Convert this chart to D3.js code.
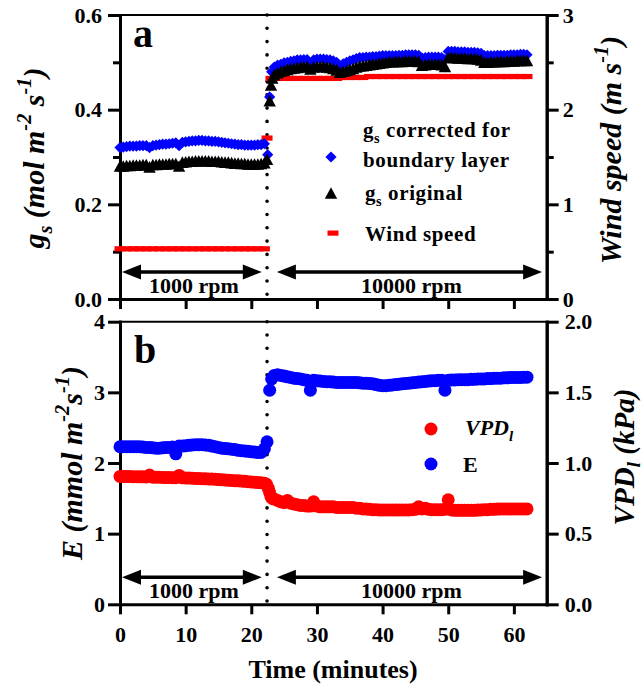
<!DOCTYPE html>
<html>
<head>
<meta charset="utf-8">
<script src="https://cdn.jsdelivr.net/npm/d3@7"></script>
<style>
body{margin:0;background:#fff}
svg text{font-family:"Liberation Serif","Times New Roman",serif;font-weight:bold}
</style>
</head>
<body>
<div id="chart"></div>
<script>
// time grid: 0.5 min steps before the switch (from 0) and after it (from 23.5)
var stepMin = 0.5,
	postStart = 23.5,
	switchTime = 22.4;

// panel a: gs corrected for boundary layer (mol m-2 s-1)
var gsCorrPre = [0.320,0.321,0.322,0.323,0.323,0.323,0.324,0.324,0.324,0.320,
	0.324,0.325,0.326,0.327,0.327,0.328,0.329,0.330,0.324,0.331,
	0.332,0.333,0.334,0.334,0.335,0.335,0.334,0.334,0.333,0.333,
	0.332,0.331,0.330,0.329,0.328,0.327,0.326,0.326,0.325,0.325,
	0.325,0.325,0.326,0.326,0.328];
var gsCorrMid = [[22.5,0.305],[22.8,0.427],[23.1,0.480]];
var gsCorrPost = [0.490,0.494,0.496,0.499,0.500,0.502,0.503,0.505,0.505,0.506,
	0.506,0.495,0.505,0.507,0.507,0.507,0.506,0.505,0.503,0.500,
	0.492,0.497,0.500,0.503,0.505,0.508,0.510,0.510,0.511,0.511,
	0.512,0.512,0.513,0.514,0.514,0.514,0.514,0.514,0.515,0.515,
	0.516,0.516,0.516,0.516,0.515,0.509,0.510,0.511,0.511,0.511,
	0.511,0.510,0.506,0.523,0.523,0.523,0.522,0.522,0.522,0.521,
	0.521,0.521,0.520,0.519,0.514,0.514,0.514,0.514,0.515,0.515,
	0.515,0.515,0.516,0.516,0.516,0.517,0.517,0.516];

// panel a: gs original
var gsOrigPre = [0.279,0.279,0.280,0.280,0.281,0.281,0.281,0.282,0.282,0.277,
	0.282,0.282,0.283,0.283,0.283,0.284,0.284,0.284,0.279,0.287,
	0.288,0.289,0.289,0.290,0.290,0.290,0.290,0.290,0.289,0.289,
	0.289,0.288,0.287,0.287,0.286,0.285,0.285,0.284,0.284,0.283,
	0.283,0.283,0.283,0.284,0.286];
var gsOrigMid = [[22.4,0.293],[22.8,0.417],[23.0,0.450],[23.2,0.465]];
var gsOrigPost = [0.472,0.476,0.479,0.481,0.483,0.485,0.486,0.487,0.488,0.489,
	0.489,0.484,0.488,0.489,0.489,0.489,0.488,0.487,0.485,0.482,
	0.477,0.479,0.481,0.483,0.485,0.488,0.490,0.491,0.492,0.493,
	0.494,0.495,0.496,0.497,0.498,0.499,0.499,0.500,0.500,0.500,
	0.501,0.501,0.501,0.501,0.500,0.492,0.493,0.494,0.494,0.494,
	0.494,0.493,0.489,0.508,0.508,0.508,0.507,0.507,0.507,0.506,
	0.506,0.506,0.505,0.503,0.498,0.498,0.499,0.499,0.500,0.500,
	0.500,0.501,0.501,0.501,0.502,0.502,0.502,0.502];

// panel a: wind speed (m s-1), 1 min steps
var windStep = 1;
var windPre = [0.53,0.53,0.53,0.53,0.53,0.53,0.53,0.53,0.53,0.53,0.53,0.53,
	0.53,0.53,0.53,0.53,0.53,0.53,0.53,0.53,0.53,0.53,0.53];
var windMid = [[22.4,1.70]];
var windPost = [2.33,2.33,2.33,2.33,2.33,2.33,2.33,2.33,2.33,2.33,2.33,
	2.34,2.34,2.34,2.34,
	2.35,2.35,2.35,2.35,2.35,2.35,2.35,2.35,2.35,2.35,2.35,2.35,2.35,
	2.35,2.35,2.35,2.35,2.35,2.35,2.35,2.35,2.35,2.35,2.35,2.35];

// panel b: E (mmol m-2 s-1)
var ePre = [2.23,2.23,2.23,2.23,2.23,2.23,2.23,2.225,2.22,2.22,
	2.215,2.21,2.21,2.215,2.22,2.22,2.225,2.13,2.24,2.24,
	2.245,2.25,2.255,2.26,2.26,2.26,2.255,2.25,2.24,2.23,
	2.22,2.21,2.205,2.2,2.195,2.19,2.18,2.175,2.17,2.165,
	2.16,2.155,2.15,2.15,2.2];
var eMid = [[22.4,2.30],[22.8,3.03],[23.1,3.19]];
var ePost = [3.24,3.25,3.24,3.23,3.22,3.21,3.20,3.195,3.19,3.18,
	3.17,3.03,3.17,3.165,3.16,3.155,3.15,3.15,3.145,3.14,
	3.14,3.14,3.14,3.14,3.14,3.14,3.135,3.13,3.13,3.125,
	3.12,3.11,3.10,3.095,3.095,3.10,3.105,3.11,3.115,3.12,
	3.125,3.13,3.135,3.14,3.145,3.15,3.155,3.16,3.165,3.165,
	3.17,3.17,3.03,3.17,3.175,3.175,3.18,3.18,3.18,3.18,
	3.185,3.185,3.19,3.19,3.19,3.195,3.195,3.2,3.2,3.2,
	3.205,3.205,3.21,3.21,3.21,3.21,3.215,3.215];

// panel b: leaf VPD (kPa)
var vpdPre = [0.905,0.905,0.904,0.904,0.903,0.903,0.902,0.902,0.901,0.915,
	0.900,0.899,0.899,0.898,0.897,0.897,0.896,0.896,0.912,0.895,
	0.894,0.893,0.892,0.891,0.890,0.889,0.888,0.887,0.886,0.885,
	0.883,0.882,0.880,0.878,0.877,0.875,0.874,0.872,0.870,0.868,
	0.866,0.864,0.862,0.860,0.857];
var vpdMid = [[22.3,0.85],[22.6,0.82],[22.8,0.79],[23.0,0.76],[23.2,0.75]];
var vpdPost = [0.745,0.735,0.725,0.72,0.735,0.715,0.71,0.705,0.70,0.70,
	0.695,0.695,0.725,0.695,0.69,0.69,0.69,0.69,0.69,0.685,
	0.685,0.685,0.685,0.685,0.685,0.68,0.68,0.675,0.675,0.672,
	0.67,0.67,0.668,0.668,0.668,0.668,0.668,0.668,0.668,0.668,
	0.668,0.668,0.67,0.672,0.69,0.675,0.68,0.672,0.67,0.67,
	0.67,0.67,0.672,0.74,0.668,0.665,0.665,0.665,0.665,0.665,
	0.665,0.665,0.667,0.668,0.67,0.67,0.672,0.672,0.674,0.675,
	0.675,0.675,0.675,0.675,0.675,0.675,0.675,0.675];

// rpm periods (arrow ends in minutes)
var rpmPeriods = [
	{label:"1000 rpm", from:0.3, to:21.6},
	{label:"10000 rpm", from:23.9, to:64.3}
];

var xTicks = [0,10,20,30,40,50,60];

var width = 644,
	height = 685;

var x = d3.scaleLinear().domain([0,65]).range([120,546.7]);
var ya = d3.scaleLinear().domain([0,0.6]).range([299,15]);
var yaR = d3.scaleLinear().domain([0,3]).range([299,15]);
var yb = d3.scaleLinear().domain([0,4]).range([604.3,321.7]);
var ybR = d3.scaleLinear().domain([0,2]).range([604.3,321.7]);

var svg = d3.select("#chart").append("svg")
	.attr("width",width)
	.attr("height",height);

function build(pre, mid, post, step, t0){
	var out = pre.map(function(v,i){ return {t:i*step, v:v}; });
	mid.forEach(function(d){ out.push({t:d[0], v:d[1]}); });
	post.forEach(function(v,i){ out.push({t:t0+i*step, v:v}); });
	return out;
}

var gsCorr = build(gsCorrPre, gsCorrMid, gsCorrPost, stepMin, postStart),
	gsOrig = build(gsOrigPre, gsOrigMid, gsOrigPost, stepMin, postStart),
	wind = build(windPre, windMid, windPost, windStep, 23),
	eSer = build(ePre, eMid, ePost, stepMin, postStart),
	vpd = build(vpdPre, vpdMid, vpdPost, stepMin, postStart);

// rich text with sub/superscripts
function rich(el, parts, size, subK){
	var shift = 0;
	subK = subK || 0.28;
	parts.forEach(function(p){
		var target = p.sub ? subK*size : p.sup ? -0.42*size : 0;
		var ts = el.append("tspan").text(p.t).attr("dy", target-shift);
		if (p.sub || p.sup) ts.attr("font-size", (0.68*size)+"px");
		if (p.it) ts.attr("font-style","italic");
		shift = target;
	});
	return el;
}

function styleAxis(g, fs){
	g.selectAll("path.domain").attr("stroke","#000").attr("stroke-width",3).attr("stroke-linecap","square");
	g.selectAll(".tick line").attr("stroke","#000").attr("stroke-width",3);
	g.selectAll(".tick text").attr("fill","#000")
		.style("font-family","'Liberation Serif','Times New Roman',serif")
		.style("font-weight","bold").style("font-size",fs+"px");
	g.attr("font-family",null).attr("font-size",null);
}

function panelFrame(yL, yR, leftTicks, leftMinor, leftFmt, leftPad, rightTicks, rightMinor, rightFmt, rightPad, showX){
	var f = svg.append("g");
	f.append("line")
		.attr("x1",x(0)).attr("x2",x(65))
		.attr("y1",yL.range()[1]).attr("y2",yL.range()[1])
		.attr("stroke","#000").attr("stroke-width",2);

	var bx = f.append("g").attr("transform","translate(0,"+yL.range()[0]+")")
		.call(d3.axisBottom(x).tickValues(xTicks).tickSize(10).tickSizeOuter(0).tickPadding(12)
			.tickFormat(showX ? d3.format("d") : ""));
	styleAxis(bx,22);

	var lm = f.append("g").attr("transform","translate("+x(0)+",0)")
		.call(d3.axisLeft(yL).tickValues(leftMinor).tickSize(7).tickSizeOuter(0).tickFormat(""));
	styleAxis(lm,22);
	var la = f.append("g").attr("transform","translate("+x(0)+",0)")
		.call(d3.axisLeft(yL).tickValues(leftTicks).tickSize(12).tickSizeOuter(0).tickPadding(leftPad).tickFormat(leftFmt));
	styleAxis(la,22);

	var rm = f.append("g").attr("transform","translate("+x(65)+",0)")
		.call(d3.axisRight(yR).tickValues(rightMinor).tickSize(7).tickSizeOuter(0).tickFormat(""));
	styleAxis(rm,22);
	var ra = f.append("g").attr("transform","translate("+x(65)+",0)")
		.call(d3.axisRight(yR).tickValues(rightTicks).tickSize(12).tickSizeOuter(0).tickPadding(rightPad).tickFormat(rightFmt));
	styleAxis(ra,22);

	// switch time marker
	f.append("line")
		.attr("x1",x(switchTime)).attr("x2",x(switchTime))
		.attr("y1",yL.range()[1]).attr("y2",yL.range()[0])
		.attr("stroke","#000").attr("stroke-width",3.6)
		.attr("stroke-linecap","round").attr("stroke-dasharray","0,13.3");

	// rpm arrows
	var arrowY = yL.range()[0]-27;
	rpmPeriods.forEach(function(p){
		var x1 = x(p.from), x2 = x(p.to);
		f.append("line").attr("x1",x1+14).attr("x2",x2-14)
			.attr("y1",arrowY).attr("y2",arrowY)
			.attr("stroke","#000").attr("stroke-width",3.5);
		f.append("path")
			.attr("d","M"+x1+","+arrowY+"l19,-7.5v15z").attr("fill","#000");
		f.append("path")
			.attr("d","M"+x2+","+arrowY+"l-19,-7.5v15z").attr("fill","#000");
		f.append("text").attr("x",(x1+x2)/2+2).attr("y",arrowY+21)
			.attr("text-anchor","middle").style("font-size","22px").text(p.label);
	});
	return f;
}

panelFrame(ya, yaR, [0,0.2,0.4,0.6], [0.1,0.3,0.5], d3.format(".1f"), 6,
	[0,1,2,3], [0.5,1.5,2.5], d3.format("d"), 4, false);
panelFrame(yb, ybR, [0,1,2,3,4], [], d3.format("d"), 3,
	[0,0.5,1,1.5,2], [], d3.format(".1f"), 6, true);

// symbols
var diamond = "M0,-5.6L5.6,0L0,5.6L-5.6,0Z",
	triangle = "M0,-6.8L6.2,4.8L-6.2,4.8Z";

// panel a data
svg.append("g").selectAll("rect").data(wind).enter().append("rect")
	.attr("x",function(d){ return x(d.t)-5.5; })
	.attr("y",function(d){ return yaR(d.v)-2.6; })
	.attr("width",11).attr("height",5.2)
	.attr("fill","#ff0000");

svg.append("g").selectAll("path").data(gsCorr).enter().append("path")
	.attr("d",diamond)
	.attr("transform",function(d){ return "translate("+x(d.t)+","+ya(d.v)+")"; })
	.attr("fill","#0000ff");

svg.append("g").selectAll("path").data(gsOrig).enter().append("path")
	.attr("d",triangle)
	.attr("transform",function(d){ return "translate("+x(d.t)+","+ya(d.v)+")"; })
	.attr("fill","#000");

// panel b data
svg.append("g").selectAll("circle").data(vpd).enter().append("circle")
	.attr("cx",function(d){ return x(d.t); })
	.attr("cy",function(d){ return ybR(d.v); })
	.attr("r",6.5).attr("fill","#ff0000");

svg.append("g").selectAll("circle").data(eSer).enter().append("circle")
	.attr("cx",function(d){ return x(d.t); })
	.attr("cy",function(d){ return yb(d.v); })
	.attr("r",6.5).attr("fill","#0000ff");

// panel letters
svg.append("text").attr("x",133).attr("y",47).style("font-size","40px").text("a");
svg.append("text").attr("x",134).attr("y",363).style("font-size","40px").text("b");

// legend a
var lg = svg.append("g").style("font-size","21px");
lg.append("path").attr("d",diamond).attr("transform","translate(331,157)").attr("fill","#0000ff");
lg.append("path").attr("d",triangle).attr("transform","translate(331,194)").attr("fill","#000");
lg.append("rect").attr("x",327.5).attr("y",230.5).attr("width",11).attr("height",5.2).attr("fill","#ff0000");
rich(lg.append("text").attr("x",363).attr("y",137).style("letter-spacing","0.6px"),
	[{t:"g"},{t:"s",sub:true},{t:" corrected for"}],21);
lg.append("text").attr("x",363).attr("y",167).style("letter-spacing","0.6px").text("boundary layer");
rich(lg.append("text").attr("x",365).attr("y",200).style("letter-spacing","0.6px"),
	[{t:"g"},{t:"s",sub:true},{t:" original"}],21);
lg.append("text").attr("x",365).attr("y",241).style("letter-spacing","0.6px").text("Wind speed");

// legend b
var lgb = svg.append("g").style("font-size","22px");
lgb.append("circle").attr("cx",431).attr("cy",429).attr("r",6.5).attr("fill","#ff0000");
lgb.append("circle").attr("cx",431).attr("cy",464).attr("r",6.5).attr("fill","#0000ff");
rich(lgb.append("text").attr("x",465).attr("y",435),
	[{t:"VPD",it:true},{t:"l",sub:true,it:true}],22);
lgb.append("text").attr("x",463).attr("y",472).text("E");

// vertical axis titles, centred by measured length
function vtitle(cx, cy, parts, size, subK){
	var t = svg.append("text")
		.attr("text-anchor","start")
		.style("font-size",size+"px").style("font-style","italic");
	rich(t, parts, size, subK);
	var len = t.node().getComputedTextLength();
	t.attr("transform","translate("+cx+","+(cy+len/2)+") rotate(-90)");
}
vtitle(44,158,[{t:"g"},{t:"s",sub:true},{t:" (mol m"},{t:"-2",sup:true},{t:" s"},{t:"-1",sup:true},{t:")"}],30);
vtitle(621,150,[{t:"Wind speed (m s"},{t:"-1",sup:true},{t:")"}],30);
vtitle(82,463,[{t:"E (mmol m"},{t:"-2",sup:true},{t:"s"},{t:"-1",sup:true},{t:")"}],30);
vtitle(634,457,[{t:"VPD"},{t:"l",sub:true},{t:" (kPa)"}],29,0.2);

svg.append("text").attr("x",333).attr("y",678).attr("text-anchor","middle")
	.style("font-size","26px").text("Time (minutes)");
</script>
</body>
</html>
